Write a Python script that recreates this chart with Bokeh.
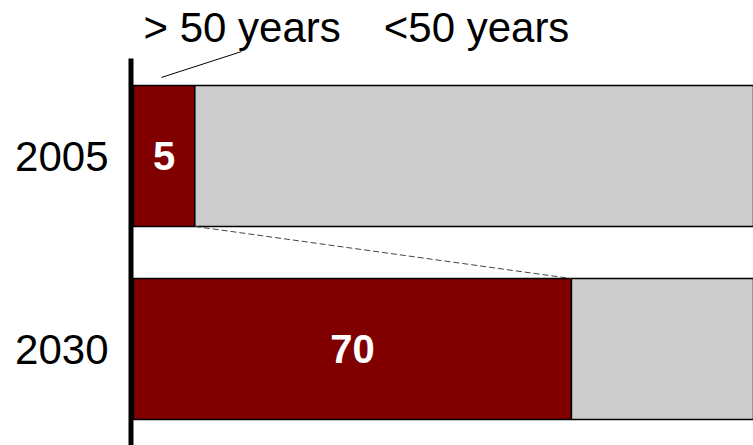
from bokeh.plotting import figure
from bokeh.models import Range1d, FixedTicker, ColumnDataSource
from bokeh.core.properties import value
from bokeh.embed import file_html
from bokeh.resources import INLINE

# ---- data ----
years = ["2005", "2030"]
older_share = [9.8, 70.0]          # bar length of the "> 50 years" segment
older_labels = ["5", "70"]         # printed values
total = [100.0, 100.0]             # full bar (extends past the right edge)
series_names = ["> 50 years", "<50 years"]

FONT = "Liberation Sans"
DARK = "#800000"
GREY = "#cccccc"
BAR_H = 0.73

n = len(years)
ypos = [n - i - 0.5 for i in range(n)]

src = ColumnDataSource(dict(
    y=ypos,
    older=older_share,
    total=total,
    mid=[v / 2 for v in older_share],
    lab=older_labels,
))

p = figure(width=753, height=445, output_backend="svg", toolbar_location=None,
           x_range=Range1d(-0.96, 99.1), y_range=Range1d(0, 2.3057),
           x_axis_location=None, min_border_left=127, min_border_right=0,
           min_border_top=0, min_border_bottom=0)
p.outline_line_color = None
p.xgrid.visible = False
p.ygrid.visible = False
p.background_fill_color = "white"
p.border_fill_color = "white"

ax = p.yaxis[0]
ax.ticker = FixedTicker(ticks=ypos)
ax.major_label_overrides = {y: t for y, t in zip(ypos, years)}
ax.axis_line_color = None
ax.major_tick_line_color = None
ax.minor_tick_line_color = None
ax.major_label_standoff = 13
ax.major_label_text_font = FONT
ax.major_label_text_font_size = "42px"
ax.major_label_text_color = "black"

# bars
p.hbar(y="y", left=0, right="older", height=BAR_H, source=src,
       fill_color=DARK, line_color="black", line_width=1.5)
p.hbar(y="y", left="older", right="total", height=BAR_H, source=src,
       fill_color=GREY, line_color="black", line_width=1.5)

# value labels
p.text(x="mid", y="y", text="lab", source=src, text_font=value(FONT),
       text_font_style="bold", text_font_size="40px", text_color="white",
       text_align="center", text_baseline="middle")

# vertical axis line
p.segment(x0=[-0.4], y0=[0], x1=[-0.4], y1=[2.005], line_color="black", line_width=5)

# dashed connector between the two "> 50 years" segments
p.segment(x0=[older_share[0]], y0=[ypos[0] - BAR_H / 2],
          x1=[older_share[1]], y1=[ypos[1] + BAR_H / 2],
          line_color="#444444", line_width=1, line_dash="6 3")

# series header labels
p.text(x=[1.6, 40.0], y=[2.166, 2.166], text=series_names, text_font=value(FONT),
       text_font_size="42px", text_color="black", text_align="left",
       text_baseline="alphabetic")

# leader line from header to the first segment
p.segment(x0=[4.47], y0=[1.907], x1=[17.26], y1=[2.041], line_color="black", line_width=1)

open("out.html", "w").write(file_html(p, INLINE))
